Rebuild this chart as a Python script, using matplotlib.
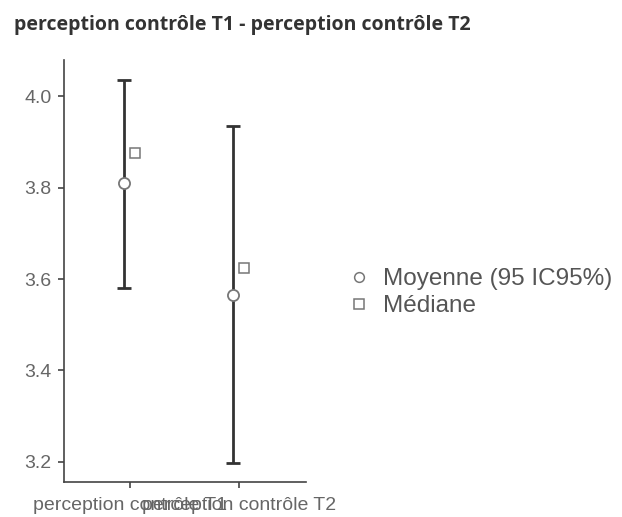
import matplotlib.pyplot as plt
from matplotlib.lines import Line2D
import numpy as np

# data
categories = ["perception contrôle T1", "perception contrôle T2"]
means = [3.81, 3.565]
ci_low = [3.58, 3.197]
ci_high = [4.035, 3.935]
medians = [3.875, 3.625]
yticks = [3.2, 3.4, 3.6, 3.8, 4.0]

plt.rcParams['font.family'] = ['Liberation Sans', 'DejaVu Sans']

fig = plt.figure(figsize=(6.22, 5.17), dpi=100)
ax = fig.add_axes([0.1029, 0.0677, 0.389, 0.816])

x = np.arange(1, len(categories) + 1)
means = np.array(means)
yerr = [means - np.array(ci_low), np.array(ci_high) - means]

# mean with CI, slightly left of the tick; median slightly right
ax.errorbar(x - 0.055, means, yerr=yerr, fmt="none", ecolor="#333333",
            elinewidth=2, capsize=5, capthick=2, zorder=2)
ax.plot(x - 0.055, means, "o", ms=8, mfc="white", mec="#777777", mew=1.3, zorder=3)
ax.plot(x + 0.05, medians, "s", ms=7.5, mfc="white", mec="#777777", mew=1.1, zorder=3)

ax.set_xlim(0.395, 2.615)
ax.set_ylim(3.156, 4.079)
ax.set_xticks(x)
ax.set_xticklabels(categories)
ax.set_yticks(yticks)
ax.set_yticklabels(["%.1f" % v for v in yticks])

for s in ["top", "right"]:
    ax.spines[s].set_visible(False)
for s in ["left", "bottom"]:
    ax.spines[s].set_color("#444444")
    ax.spines[s].set_linewidth(1.2)
ax.tick_params(colors="#444444", labelcolor="#666666", labelsize=14, length=4, width=1.2)
ax.tick_params(axis="x", pad=7)
ax.tick_params(axis="y", pad=5)

fig.text(0.022, 0.942, "perception contrôle T1 - perception contrôle T2",
         family=["Open Sans", "DejaVu Sans"], fontweight="bold", fontsize=14, color="#333333")

handles = [
    Line2D([], [], ls="none", marker="o", ms=7, mfc="white", mec="#777777", mew=1.1),
    Line2D([], [], ls="none", marker="s", ms=6.5, mfc="white", mec="#777777", mew=1.1),
]
fig.legend(handles, ["Moyenne (95 IC95%)", "Médiane"], loc="upper left",
           bbox_to_anchor=(0.53, 0.509), frameon=False, fontsize=17.5,
           labelcolor="#555555", handletextpad=0.4, labelspacing=0.2,
           handlelength=1.2, borderaxespad=0.2)

fig.savefig("out.png", dpi=100)
